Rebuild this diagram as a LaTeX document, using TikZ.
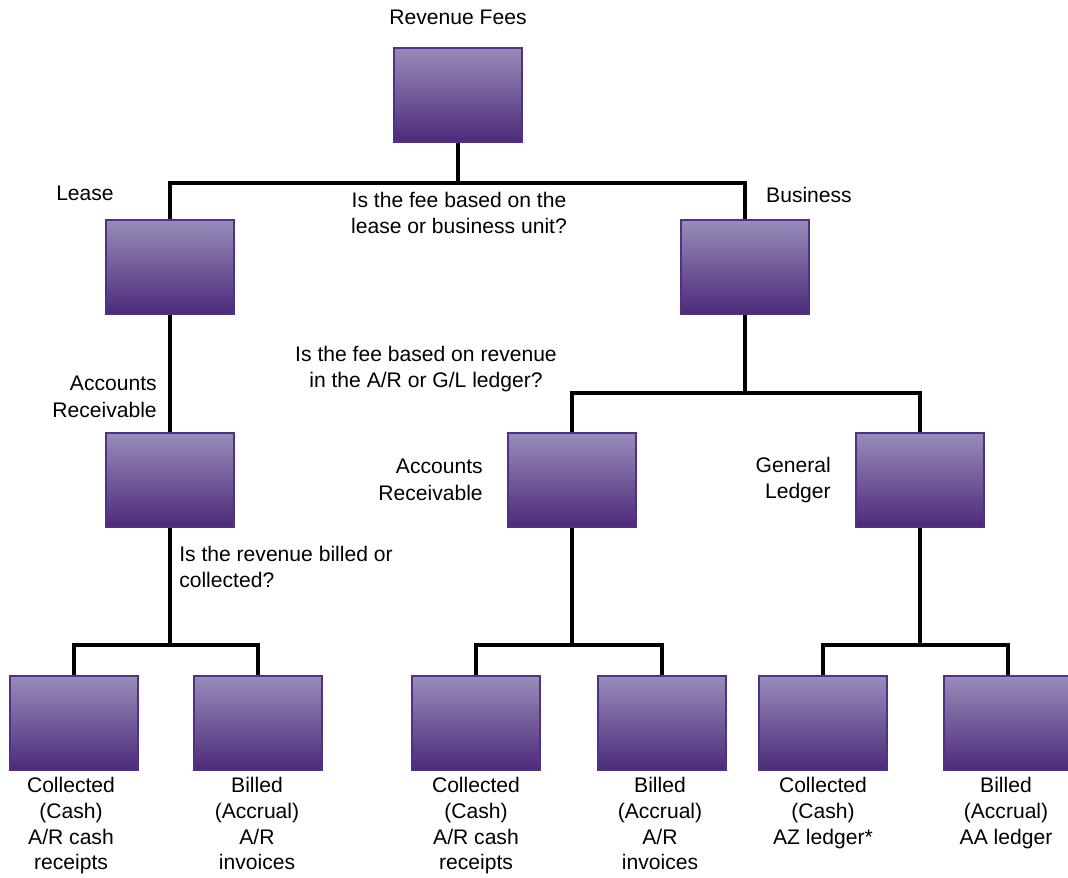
\documentclass[tikz,border=0pt]{standalone}
\usepackage{fontspec}
\setmainfont{Liberation Sans}
\usepackage{xcolor}
\usetikzlibrary{positioning}
\definecolor{boxtop}{RGB}{152,140,186}
\definecolor{boxbot}{RGB}{76,42,122}
\definecolor{boxline}{RGB}{84,48,132}
\tikzset{
  feebox/.style={draw=boxline, line width=1.3pt, top color=boxtop,
                 bottom color=boxbot, minimum width=3.2cm,
                 minimum height=2.35cm, inner sep=0pt},
  txt/.style={font=\fontsize{15}{19}\selectfont, inner sep=0pt},
  leaftxt/.style={font=\fontsize{15}{18.3}\selectfont, inner sep=0pt,
                  align=center, anchor=north},
  link/.style={line width=2.4pt}
}

\begin{document}
\begin{tikzpicture}[x=0.025cm, y=-0.025cm]
  \useasboundingbox (0,0) rectangle (1068,877);

  % Level 0 --- revenue fees
  \node[feebox] (fees) at (458,95) {};
  \node[txt] (feesT) at (458,17) {Revenue Fees};

  % Level 1 --- lease or business unit
  \node[feebox] (lease) at (170,267) {};
  \node[feebox] (biz) at (745,267) {};
  \node[txt] (leaseT) at (85,193) {Lease};
  \node[txt] (bizT) at (809,195) {Business};
  \node[txt, align=center] (q1) at (459,213)
    {Is the fee based on the\\lease or business unit?};

  % Level 2 --- A/R or G/L
  \node[feebox] (leaseAR) at (170,480) {};
  \node[feebox] (bizAR) at (572,480) {};
  \node[feebox] (bizGL) at (920,480) {};
  \node[txt, align=right, anchor=east] (leaseART) at (157,397)
    {Accounts\\Receivable};
  \node[txt, align=right, anchor=east] (bizART) at (483,480)
    {Accounts\\Receivable};
  \node[txt, align=right, anchor=east] (bizGLT) at (831,480)
    {General\\Ledger};
  \node[txt, align=center] (q2) at (426,369)
    {Is the fee based on revenue\\in the A/R or G/L ledger?};
  \node[txt, align=left, anchor=west] (q3) at (179,567)
    {Is the revenue billed or\\collected?};

  % Level 3 --- billed or collected
  \foreach \name/\x in {leafA/74, leafB/258, leafC/476,
                        leafD/662, leafE/823, leafF/1008} {
    \node[feebox] (\name) at (\x,723) {};
  }
  \node[leaftxt] (leafAT) at (71,777)
    {Collected\\(Cash)\\A/R cash\\receipts};
  \node[leaftxt] (leafBT) at (257,777)
    {Billed\\(Accrual)\\A/R\\invoices};
  \node[leaftxt] (leafCT) at (476,777)
    {Collected\\(Cash)\\A/R cash\\receipts};
  \node[leaftxt] (leafDT) at (660,777)
    {Billed\\(Accrual)\\A/R\\invoices};
  \node[leaftxt] (leafET) at (823,777)
    {Collected\\(Cash)\\AZ ledger*};
  \node[leaftxt] (leafFT) at (1006,777)
    {Billed\\(Accrual)\\AA ledger};

  % Connectors
  \coordinate (j0) at (458,183);
  \coordinate (j1) at (745,393);
  \coordinate (j2) at (170,645);
  \coordinate (j3) at (572,645);
  \coordinate (j4) at (920,645);
  \draw[link] (fees.south) -- (j0);
  \draw[link] (lease.north) |- (j0) -| (biz.north);
  \draw[link] (lease.south) -- (leaseAR.north);
  \draw[link] (biz.south) -- (j1);
  \draw[link] (bizAR.north) |- (j1) -| (bizGL.north);
  \draw[link] (leaseAR.south) -- (j2);
  \draw[link] (leafA.north) |- (j2) -| (leafB.north);
  \draw[link] (bizAR.south) -- (j3);
  \draw[link] (leafC.north) |- (j3) -| (leafD.north);
  \draw[link] (bizGL.south) -- (j4);
  \draw[link] (leafE.north) |- (j4) -| (leafF.north);
\end{tikzpicture}
\end{document}
